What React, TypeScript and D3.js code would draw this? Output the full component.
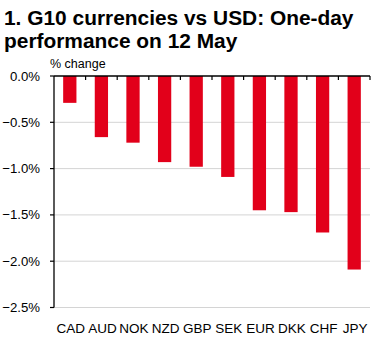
import React from "react";
import * as d3 from "d3";

const categories = ["CAD", "AUD", "NOK", "NZD", "GBP", "SEK", "EUR", "DKK", "CHF", "JPY"];
const values = [-0.29, -0.66, -0.72, -0.93, -0.98, -1.09, -1.45, -1.47, -1.69, -2.09];
const yTicks = [0, -0.5, -1.0, -1.5, -2.0, -2.5];
const titleLines = ["1. G10 currencies vs USD: One-day", "performance on 12 May"];
const unitLabel = "% change";

const W = 377;
const H = 341;
const left = 54;
const right = 370;
const top = 76;
const bottom = 307.5;
const font = "Arial, 'Liberation Sans', Helvetica, sans-serif";
const red = "#e2001a";

export default function App() {
  const x = d3.scaleBand<string>().domain(categories).range([left, right]).paddingInner(0.58).paddingOuter(0.29);
  const xb = d3.scaleBand<string>().domain(categories).range([left, right]);
  const y = d3.scaleLinear().domain([0, -2.5]).range([top, bottom]);
  return (
    <svg width={W} height={H} style={{ position: "absolute", left: 0, top: 0, background: "#fff" }}>
      {titleLines.map((t, i) => (
        <text key={i} x={4} y={24.5 + i * 23.5} fontFamily={font} fontWeight="bold" fontSize={20.9} fill="#000">
          {t}
        </text>
      ))}
      <text x={50} y={68} fontFamily={font} fontSize={12.5} fill="#000">{unitLabel}</text>
      {yTicks.filter((t) => t !== 0).map((t) => (
        <line key={t} x1={left} x2={right} y1={y(t)} y2={y(t)} stroke="#d4d4d4" strokeWidth={1} />
      ))}
      {categories.map((c, i) => (
        <rect key={c} x={x(c)} width={x.bandwidth()} y={y(0)} height={y(values[i]) - y(0)} fill={red} />
      ))}
      <line x1={left} x2={left} y1={top} y2={bottom} stroke="#000" strokeWidth={1.3} />
      {yTicks.map((t) => (
        <g key={t}>
          <line x1={left - 4} x2={left} y1={y(t)} y2={y(t)} stroke="#000" strokeWidth={1.2} />
          <text x={40} y={y(t) + 4.5} textAnchor="end" fontFamily={font} fontSize={13.2} fill="#000">
            {d3.format(".1f")(t)}%
          </text>
        </g>
      ))}
      <line x1={left} x2={right} y1={y(0)} y2={y(0)} stroke="#000" strokeWidth={1.3} />
      {categories.map((c) => (
        <line key={c} x1={(xb(c) as number) + xb.bandwidth()} x2={(xb(c) as number) + xb.bandwidth()} y1={y(0)} y2={y(0) + 4} stroke="#000" strokeWidth={1.2} />
      ))}
      {categories.map((c) => (
        <text key={c} x={(xb(c) as number) + xb.bandwidth() / 2 + 1} y={333} textAnchor="middle" fontFamily={font} fontSize={13.5} fill="#000">
          {c}
        </text>
      ))}
    </svg>
  );
}
